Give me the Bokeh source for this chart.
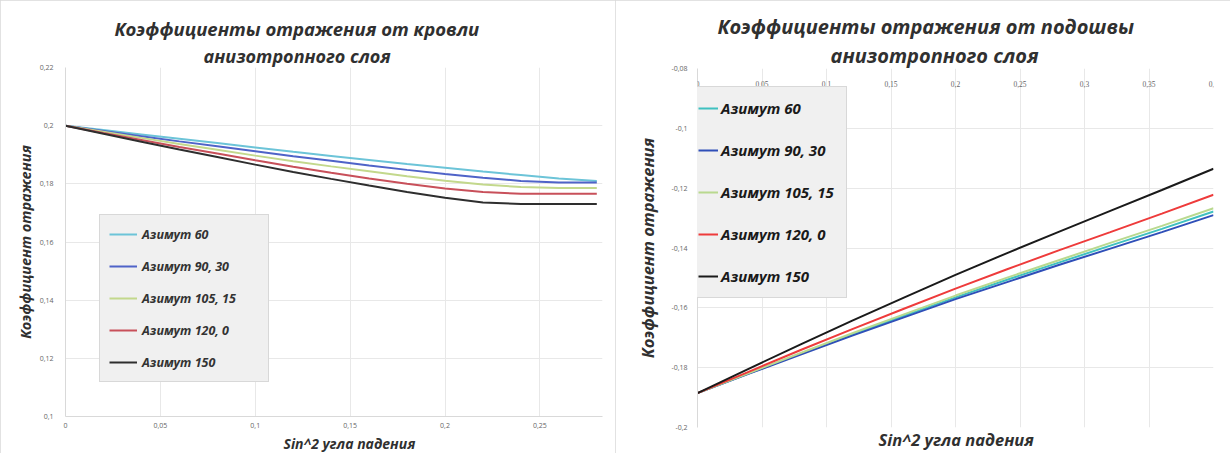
from bokeh.plotting import figure
from bokeh.layouts import row, column
from bokeh.models import FixedTicker, Legend, LegendItem, Title, Range1d, LabelSet, ColumnDataSource
from bokeh.embed import file_html
from bokeh.resources import INLINE

# ---------------- data ----------------
series_names = ["Азимут 60", "Азимут 90, 30", "Азимут 105, 15", "Азимут 120, 0", "Азимут 150"]

# left chart: reflection from the top of the anisotropic layer
x_top = [0.0, 0.02, 0.04, 0.06, 0.08, 0.10, 0.12, 0.14, 0.16, 0.18, 0.20, 0.22, 0.24, 0.26, 0.28]
top_az60 = [0.2, 0.1985, 0.1970, 0.1955, 0.1940, 0.1925, 0.1910, 0.1896, 0.1882, 0.1868, 0.1855, 0.1842, 0.1830, 0.1818, 0.1810]
top_az90 = [0.2, 0.1982, 0.1964, 0.1946, 0.1929, 0.1912, 0.1895, 0.1879, 0.1863, 0.1848, 0.1834, 0.1821, 0.1810, 0.1805, 0.1805]
top_az105 = [0.2, 0.1979, 0.1958, 0.1937, 0.1917, 0.1897, 0.1878, 0.1860, 0.1843, 0.1826, 0.1811, 0.1798, 0.1789, 0.1786, 0.1786]
top_az120 = [0.2, 0.1975, 0.1951, 0.1927, 0.1904, 0.1881, 0.1859, 0.1838, 0.1818, 0.1800, 0.1784, 0.1772, 0.1766, 0.1766, 0.1766]
top_az150 = [0.2, 0.1972, 0.1945, 0.1918, 0.1892, 0.1866, 0.1841, 0.1817, 0.1794, 0.1772, 0.1752, 0.1736, 0.1731, 0.1731, 0.1731]

left_x_ticks = [0.0, 0.05, 0.1, 0.15, 0.2, 0.25]
left_x_labels = ["0", "0,05", "0,1", "0,15", "0,2", "0,25"]
left_y_ticks = [0.1, 0.12, 0.14, 0.16, 0.18, 0.2, 0.22]
left_y_labels = ["0,1", "0,12", "0,14", "0,16", "0,18", "0,2", "0,22"]

# right chart: reflection from the bottom of the anisotropic layer
x_bot = [0.0, 0.04, 0.08, 0.12, 0.16, 0.20, 0.24, 0.28, 0.32, 0.36, 0.40]
bot_az60 = [-0.1885, -0.1819, -0.1753, -0.1689, -0.1627, -0.1565, -0.1506, -0.1449, -0.1392, -0.1336, -0.1278]
bot_az90 = [-0.1885, -0.1820, -0.1756, -0.1693, -0.1632, -0.1571, -0.1514, -0.1457, -0.1402, -0.1347, -0.1290]
bot_az105 = [-0.1885, -0.1818, -0.1751, -0.1685, -0.1622, -0.1559, -0.1499, -0.1441, -0.1383, -0.1326, -0.1267]
bot_az120 = [-0.1885, -0.1813, -0.1741, -0.1671, -0.1603, -0.1536, -0.1471, -0.1408, -0.1347, -0.1285, -0.1222]
bot_az150 = [-0.1885, -0.1803, -0.1722, -0.1643, -0.1566, -0.1490, -0.1417, -0.1346, -0.1276, -0.1206, -0.1135]

right_x_ticks = [0.0, 0.05, 0.1, 0.15, 0.2, 0.25, 0.3, 0.35, 0.4]
right_x_labels = ["0", "0,05", "0,1", "0,15", "0,2", "0,25", "0,3", "0,35", "0,4"]
right_y_ticks = [-0.2, -0.18, -0.16, -0.14, -0.12, -0.1, -0.08]
right_y_labels = ["-0,2", "-0,18", "-0,16", "-0,14", "-0,12", "-0,1", "-0,08"]

left_colors = ["#6cc4d8", "#4f63c8", "#c3d88c", "#c8505a", "#2e2e2e"]
right_colors = ["#3fc1c0", "#2f4fb8", "#b9d98f", "#ee3b3b", "#1a1a1a"]

FONT = "Open Sans"
TITLE_COLOR = "#303030"
TICK_COLOR = "#666666"
GRID_COLOR = "#e8e8e8"


def add_title(p, text, size, offset, standoff, where="above"):
    t = Title(text=text, align="left", offset=offset, standoff=standoff,
              text_font=FONT, text_font_size=size, text_font_style="bold italic",
              text_color=TITLE_COLOR)
    p.add_layout(t, where)
    return t


def style_common(p):
    p.background_fill_color = "white"
    p.border_fill_color = "white"
    p.outline_line_color = None
    p.xgrid.grid_line_color = GRID_COLOR
    p.ygrid.grid_line_color = GRID_COLOR
    for ax in p.axis:
        ax.major_tick_out = 0
        ax.major_tick_in = 0
        ax.minor_tick_out = 0
        ax.minor_tick_in = 0
        ax.axis_line_color = "#d9d9d9"
        ax.major_label_text_font = FONT
        ax.major_label_text_font_size = "7px"
        ax.major_label_text_color = TICK_COLOR


# ---------------- left figure ----------------
p1 = figure(width=615, height=453, output_backend="svg", toolbar_location=None,
            title_location=None,
            x_range=Range1d(0, 0.283), y_range=Range1d(0.1, 0.22),
            min_border_left=65, min_border_right=13, min_border_top=67, min_border_bottom=36,
            styles={"outline": "1px solid #d9d9d9", "outline-offset": "-1px"})
style_common(p1)
p1.xaxis.ticker = FixedTicker(ticks=left_x_ticks)
p1.yaxis.ticker = FixedTicker(ticks=left_y_ticks)
p1.xgrid.ticker = FixedTicker(ticks=left_x_ticks)
p1.ygrid.ticker = FixedTicker(ticks=left_y_ticks)
p1.xaxis.major_label_overrides = dict(zip(left_x_ticks, left_x_labels))
p1.yaxis.major_label_overrides = dict(zip(left_y_ticks, left_y_labels))
p1.xaxis.major_label_standoff = 6
p1.yaxis.major_label_standoff = 12
p1.yaxis.axis_label = "Коэффициент отражения"
p1.yaxis.axis_label_text_font = FONT
p1.yaxis.axis_label_text_font_size = "14.5px"
p1.yaxis.axis_label_text_font_style = "bold italic"
p1.yaxis.axis_label_text_color = TITLE_COLOR
p1.yaxis.axis_label_standoff = 2

add_title(p1, "Sin^2 угла падения", "14px", 218, 2, "below")
add_title(p1, "анизотропного слоя", "18px", 138, 0)
add_title(p1, "Коэффициенты отражения от кровли", "18.5px", 49, 2)

left_series = [top_az60, top_az90, top_az105, top_az120, top_az150]
items1 = []
for name, ys, c in zip(series_names, left_series, left_colors):
    r = p1.line(x_top, ys, line_color=c, line_width=2)
    items1.append(LegendItem(label=name, renderers=[r]))
leg1 = Legend(items=items1, location=(34, 34), margin=0, padding=9,
              spacing=12, label_height=20, glyph_height=20, glyph_width=28,
              label_standoff=5, label_width=117,
              label_text_font=FONT, label_text_font_size="12.5px",
              label_text_font_style="bold italic", label_text_color="#333333",
              background_fill_color="#f0f0f0", background_fill_alpha=1.0,
              border_line_color="#bfbfbf", border_line_width=1)
p1.add_layout(leg1)

# ---------------- right figure ----------------
p2 = figure(width=615, height=453, output_backend="svg", toolbar_location=None,
            title_location=None, x_axis_location="above",
            x_range=Range1d(0, 0.4), y_range=Range1d(-0.2, -0.08),
            min_border_left=82, min_border_right=17, min_border_top=68, min_border_bottom=26,
            styles={"outline": "1px solid #d9d9d9", "outline-offset": "-1px"})
style_common(p2)
p2.xaxis.ticker = FixedTicker(ticks=right_x_ticks)
p2.yaxis.ticker = FixedTicker(ticks=right_y_ticks)
p2.xgrid.ticker = FixedTicker(ticks=right_x_ticks)
p2.ygrid.ticker = FixedTicker(ticks=right_y_ticks)
p2.xaxis.visible = False
p2.yaxis.major_label_overrides = dict(zip(right_y_ticks, right_y_labels))
p2.yaxis.major_label_standoff = 10
p2.yaxis.axis_label = "Коэффициент отражения"
p2.yaxis.axis_label_text_font = FONT
p2.yaxis.axis_label_text_font_size = "16.5px"
p2.yaxis.axis_label_text_font_style = "bold italic"
p2.yaxis.axis_label_text_color = TITLE_COLOR
p2.yaxis.axis_label_standoff = 9

# x tick labels sit just below the top axis line, inside the plot area
xlab_src = ColumnDataSource(dict(x=right_x_ticks, y=[right_y_ticks[-1]] * len(right_x_ticks),
                                 text=right_x_labels))
p2.add_layout(LabelSet(x="x", y="y", text="text", source=xlab_src,
                       text_font=FONT, text_font_size="7.5px", text_color=TICK_COLOR,
                       text_align="center", text_baseline="middle", y_offset=-15))

add_title(p2, "Sin^2 угла падения", "16.5px", 181, -4, "below")
add_title(p2, "анизотропного слоя", "20px", 133, 0)
add_title(p2, "Коэффициенты отражения от подошвы", "20px", 20, 0)

right_series = [bot_az60, bot_az90, bot_az105, bot_az120, bot_az150]
items2 = []
for name, ys, c in zip(series_names, right_series, right_colors):
    r = p2.line(x_bot, ys, line_color=c, line_width=2)
    items2.append(LegendItem(label=name, renderers=[r]))
leg2 = Legend(items=items2, location=(-9, 129), margin=0, padding=9,
              spacing=18, label_height=24, glyph_height=24, glyph_width=20,
              label_standoff=3, label_width=116,
              label_text_font=FONT, label_text_font_size="15px",
              label_text_font_style="bold italic", label_text_color="#1a1a1a",
              background_fill_color="#f0f0f0", background_fill_alpha=1.0,
              border_line_color="#bfbfbf", border_line_width=1)
p2.add_layout(leg2)

layout = row(column(p1), column(p2), spacing=0)
open("out.html", "w").write(file_html(layout, INLINE))
